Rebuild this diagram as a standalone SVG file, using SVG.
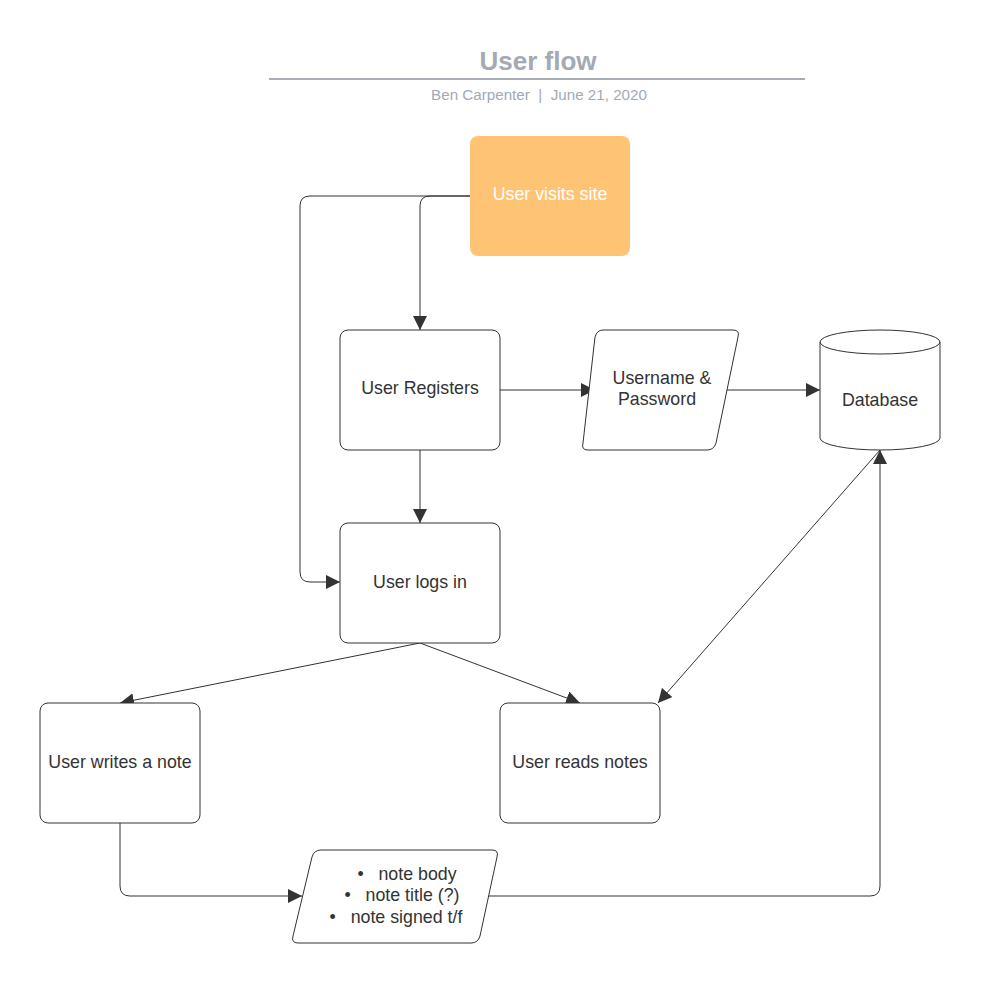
<svg xmlns="http://www.w3.org/2000/svg" width="1003" height="983" viewBox="0 0 1003 983">
<defs>
<style>
.box{fill:#ffffff;stroke:#333333;stroke-width:1}
.t{font-family:"Liberation Sans",Arial,sans-serif;font-size:17.8px;fill:#333333;text-anchor:middle;white-space:pre}
.c{fill:none;stroke:#333333;stroke-width:1}
.hdr{font-family:"Liberation Sans",Arial,sans-serif;fill:#a3a9b5;text-anchor:middle;white-space:pre}
</style>
<marker id="ah" viewBox="0 0 10 10" refX="10" refY="5" markerWidth="14" markerHeight="14" markerUnits="userSpaceOnUse" orient="auto">
<path d="M0,0 L10,5 L0,10 Z" fill="#333333"/>
</marker>
</defs>
<rect width="1003" height="983" fill="#ffffff"/>
<g id="header">
<text class="hdr" x="538" y="70" font-size="26" font-weight="bold">User flow</text>
<line x1="269" y1="79" x2="805" y2="79" stroke="#a8adb8" stroke-width="2"/>
<text class="hdr" x="539" y="100" font-size="15.2" xml:space="preserve">Ben Carpenter  |  June 21, 2020</text>
</g>
<g id="connectors">
<path class="c" d="M470,196 H430 Q420,196 420,206 V330" marker-end="url(#ah)"/>
<path class="c" d="M470,196 H310 Q300,196 300,206 V572 Q300,582 310,582 H340" marker-end="url(#ah)"/>
<path class="c" d="M500,390 H595" marker-end="url(#ah)"/>
<path class="c" d="M724,390 H820" marker-end="url(#ah)"/>
<path class="c" d="M420,450 V523" marker-end="url(#ah)"/>
<path class="c" d="M420,643 L120,703" marker-end="url(#ah)"/>
<path class="c" d="M420,643 L580,703" marker-end="url(#ah)"/>
<path class="c" d="M880,450 L658,703" marker-end="url(#ah)"/>
<path class="c" d="M120,823 V886 Q120,896 130,896 H302" marker-end="url(#ah)"/>
<path class="c" d="M488,896 H870 Q880,896 880,886 V450" marker-end="url(#ah)"/>
</g>
<g id="visits">
<rect x="470" y="136" width="160" height="120" rx="8" fill="#ffc374"/>
<text class="t" x="550" y="200" style="fill:#ffffff">User visits site</text>
</g>
<g id="registers">
<rect class="box" x="340" y="330" width="160" height="120" rx="8"/>
<text class="t" x="420" y="394">User Registers</text>
</g>
<g id="credentials">
<path class="box" d="M603,330 H733 Q740,330 738,337 L716,443 Q714,450 707,450 H588 Q581,450 583,443 L595,337 Q597,330 603,330 Z"/>
<text class="t" x="662" y="384">Username &amp;</text>
<text class="t" x="657" y="405">Password</text>
</g>
<g id="database">
<path class="box" d="M820,342 A60,12 0 0 1 940,342 V438 A60,12 0 0 1 820,438 Z"/>
<path class="c" d="M820,342 A60,12 0 0 0 940,342"/>
<text class="t" x="880" y="406">Database</text>
</g>
<g id="login">
<rect class="box" x="340" y="523" width="160" height="120" rx="8"/>
<text class="t" x="420" y="588">User logs in</text>
</g>
<g id="writes">
<rect class="box" x="40" y="703" width="160" height="120" rx="8"/>
<text class="t" x="120" y="768">User writes a note</text>
</g>
<g id="reads">
<rect class="box" x="500" y="703" width="160" height="120" rx="8"/>
<text class="t" x="580" y="768">User reads notes</text>
</g>
<g id="notefields">
<path class="box" d="M321,850 H492 Q499,850 497,857 L480,936 Q478,943 471,943 H298 Q291,943 293,936 L312,857 Q314,850 321,850 Z"/>
<text class="t" x="407" y="880" xml:space="preserve">•   note body</text>
<text class="t" x="402" y="901" xml:space="preserve">•   note title (?)</text>
<text class="t" x="396" y="923" xml:space="preserve">•   note signed t/f</text>
</g>
</svg>
